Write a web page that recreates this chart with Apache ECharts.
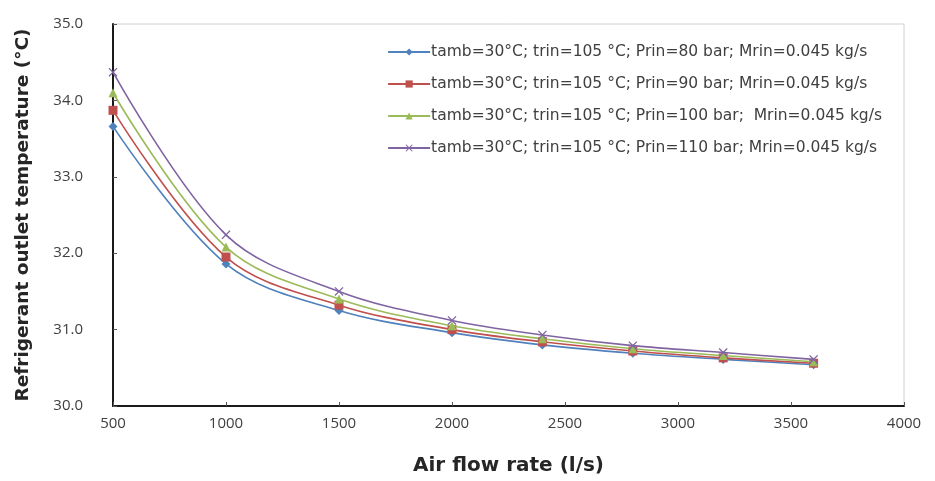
<!DOCTYPE html>
<html>
<head>
<meta charset="utf-8">
<title>Refrigerant outlet temperature vs air flow rate</title>
<script src="https://cdn.jsdelivr.net/npm/echarts@6/dist/echarts.min.js"></script>
<style>
  html, body { margin: 0; padding: 0; background: #fff; }
  #chart { width: 935px; height: 481px; }
</style>
</head>
<body>
<div id="chart"></div>
<script>
// Air flow rate (l/s)
var airFlow = [500, 1000, 1500, 2000, 2400, 2800, 3200, 3600];

// Refrigerant outlet temperature (°C) for each inlet pressure
var temp80  = [33.66, 31.86, 31.25, 30.96, 30.80, 30.69, 30.61, 30.54];
var temp90  = [33.87, 31.95, 31.32, 31.00, 30.84, 30.72, 30.63, 30.56];
var temp100 = [34.10, 32.08, 31.40, 31.05, 30.88, 30.75, 30.66, 30.58];
var temp110 = [34.37, 32.24, 31.50, 31.12, 30.93, 30.79, 30.70, 30.61];

var seriesNames = [
  'tamb=30°C; trin=105 °C; Prin=80 bar; Mrin=0.045 kg/s',
  'tamb=30°C; trin=105 °C; Prin=90 bar; Mrin=0.045 kg/s',
  'tamb=30°C; trin=105 °C; Prin=100 bar;  Mrin=0.045 kg/s',
  'tamb=30°C; trin=105 °C; Prin=110 bar; Mrin=0.045 kg/s'
];

var xTicks = { min: 500, max: 4000, step: 500 };
var yTicks = { min: 30, max: 35, step: 1 };

var colors = ['#4F81BD', '#C0504D', '#9BBB59', '#8064A2'];
var crossSymbol = 'path://M0,1L1,0L5,4L9,0L10,1L6,5L10,9L9,10L5,6L1,10L0,9L4,5Z';
var symbols = ['diamond', 'rect', 'triangle', crossSymbol];
var values = [temp80, temp90, temp100, temp110];

function pairs(ys) {
  return airFlow.map(function (x, i) { return [x, ys[i]]; });
}

var series = values.map(function (ys, k) {
  return {
    name: seriesNames[k],
    type: 'line',
    smooth: 0.35,
    data: pairs(ys),
    symbol: symbols[k],
    symbolSize: 9,
    showAllSymbol: true,
    lineStyle: { color: colors[k], width: 1.6 },
    itemStyle: { color: colors[k], borderWidth: 0 },
    z: 2 + k
  };
});

var labelFont = '"Open Sans", sans-serif';
var titleFont = '"DejaVu Sans", sans-serif';

var chart = echarts.init(document.getElementById('chart'), null, { renderer: 'canvas' });
chart.setOption({
  animation: false,
  backgroundColor: '#ffffff',
  color: colors,
  grid: {
    left: 113, right: 31, top: 24, bottom: 75,
    outerBoundsMode: 'none', containLabel: false,
    show: true, borderColor: '#d0d0d0', borderWidth: 1
  },
  legend: {
    orient: 'vertical',
    right: 48,
    top: 38,
    itemWidth: 42,
    itemHeight: 9,
    itemGap: 14,
    textStyle: {
      fontFamily: '"DejaVu Sans", sans-serif', fontSize: 15.5, lineHeight: 18,
      color: '#404040', padding: [0, 0, 0, -4]
    },
    data: seriesNames
  },
  xAxis: {
    type: 'value',
    min: xTicks.min,
    max: xTicks.max,
    interval: xTicks.step,
    name: 'Air flow rate (l/s)',
    nameLocation: 'middle',
    nameGap: 50,
    nameTextStyle: { fontFamily: titleFont, fontWeight: 'bold', fontSize: 20, color: '#262626' },
    axisLine: { lineStyle: { color: '#1a1a1a', width: 2 } },
    axisTick: { inside: true, length: 4, lineStyle: { color: '#555' } },
    axisLabel: {
      fontFamily: labelFont, fontSize: 15, color: '#404040', margin: 10,
      formatter: function (v) { return String(v); }
    },
    splitLine: { show: false }
  },
  yAxis: {
    type: 'value',
    min: yTicks.min,
    max: yTicks.max,
    interval: yTicks.step,
    name: 'Refrigerant outlet temperature (°C)',
    nameLocation: 'middle',
    nameGap: 80,
    nameTextStyle: { fontFamily: titleFont, fontWeight: 'bold', fontSize: 18.5, color: '#262626' },
    axisLine: { show: true, lineStyle: { color: '#1a1a1a', width: 2 } },
    axisTick: { show: true, inside: true, length: 4, lineStyle: { color: '#555' } },
    axisLabel: {
      fontFamily: labelFont, fontSize: 15, color: '#404040', margin: 30,
      formatter: function (v) { return v.toFixed(1); }
    },
    splitLine: { show: false }
  },
  series: series
});
</script>
</body>
</html>
